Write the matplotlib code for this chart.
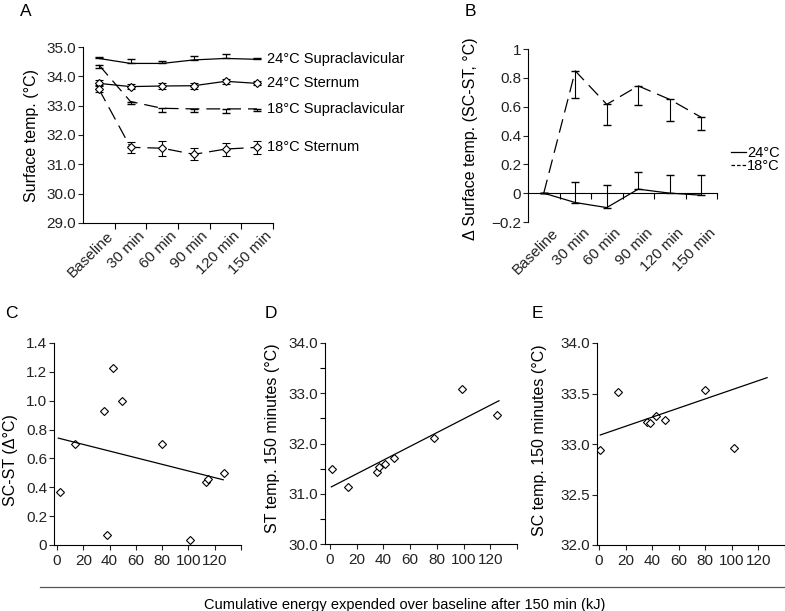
import numpy as np
import matplotlib.pyplot as plt
from matplotlib.lines import Line2D
from matplotlib.transforms import ScaledTranslation

plt.rcParams['font.family'] = ['Liberation Sans', 'DejaVu Sans']
plt.rcParams['font.size'] = 10.5
plt.rcParams['xtick.labelsize'] = 11
plt.rcParams['ytick.labelsize'] = 11
plt.rcParams['axes.labelsize'] = 11.5
plt.rcParams['lines.scale_dashes'] = False
plt.rcParams['axes.linewidth'] = 0.8

# ---- data ----
times = ['Baseline', '30 min', '60 min', '90 min', '120 min', '150 min']

# panel A: surface temperature (deg C)
sc24 = [34.61, 34.44, 34.44, 34.56, 34.61, 34.58]
sc24_err = [0.06, 0.14, 0.09, 0.14, 0.15, 0.05]
st24 = [33.76, 33.65, 33.67, 33.68, 33.83, 33.76]
st24_err = [0.1, 0.08, 0.1, 0.1, 0.08, 0.07]
sc18 = [34.39, 33.14, 32.91, 32.89, 32.89, 32.89]
sc18_err = [0.1, 0.1, 0.11, 0.1, 0.15, 0.06]
st18 = [33.57, 31.58, 31.55, 31.34, 31.52, 31.58]
st18_err = [0.12, 0.18, 0.25, 0.2, 0.22, 0.22]
a_labels = ['24°C Supraclavicular', '24°C Sternum', '18°C Supraclavicular', '18°C Sternum']

# panel B: SC-ST difference
diff24 = [0.0, -0.065, -0.1, 0.028, 0.0, -0.014]
diff24_err = [0.0, 0.145, 0.16, 0.12, 0.125, 0.14]
diff18 = [0.0, 0.848, 0.616, 0.744, 0.65, 0.526]
diff18_err = [0.0, 0.19, 0.145, 0.13, 0.15, 0.09]

# panel C: energy vs SC-ST
c_energy = [2, 14, 36, 42.5, 38, 49.6, 80, 101.5, 113.5, 115, 127]
c_diff = [0.37, 0.70, 0.93, 1.23, 0.07, 1.0, 0.70, 0.035, 0.44, 0.46, 0.50]
c_fit = (0.743, -0.0023)   # intercept, slope

# panel D: energy vs ST temp at 150 min
d_energy = [1.25, 13.25, 35, 37, 41, 48, 78, 99, 125]
d_temp = [31.5, 31.13, 31.44, 31.54, 31.6, 31.71, 32.1, 33.09, 32.56]
d_fit = (31.123, 0.01366)

# panel E: energy vs SC temp at 150 min
e_energy = [1, 14, 36, 38.5, 42.7, 50, 80, 101.5]
e_temp = [32.94, 33.51, 33.22, 33.21, 33.28, 33.24, 33.53, 32.96]
e_fit = (33.085, 0.00452)
fit_range = [1, 126.5]

W, H = 785, 611
fig = plt.figure(figsize=(W / 100, H / 100), dpi=100)


def px_axes(l, t, r, b):
    ax = fig.add_axes([l / W, 1 - b / H, (r - l) / W, (b - t) / H])
    ax.spines['top'].set_visible(False)
    ax.spines['right'].set_visible(False)
    ax.tick_params(direction='out', length=3.5, width=0.8, pad=1.5, colors='#222222')
    return ax


def category_axis(ax, pad):
    x = np.arange(len(times))
    ax.set_xlim(-0.5, len(times) - 0.5)
    ax.set_xticks(x)
    ax.set_xticklabels(times, rotation=45, ha='right', va='center', rotation_mode='anchor')
    ax.set_xticks(x + 0.5, minor=True)
    ax.tick_params(axis='x', which='major', length=0, pad=pad)
    ax.tick_params(axis='x', which='minor', length=4, width=0.8, direction='out')
    off = ScaledTranslation(0.12, 0, fig.dpi_scale_trans)
    for lab in ax.get_xticklabels():
        lab.set_transform(lab.get_transform() + off)


dash = (0, (10, 5))
x = np.arange(len(times))

# ---- A ----
axA = px_axes(83, 47, 273, 223)
zeros = [0] * len(times)
axA.errorbar(x, sc24, yerr=[zeros, sc24_err], color='k', lw=0.9, elinewidth=0.8, capsize=3)
axA.errorbar(x, st24, yerr=st24_err, color='k', lw=0.9, elinewidth=0.8, capsize=3,
             marker='D', ms=4, mfc='white', mec='k', mew=0.8)
axA.errorbar(x, sc18, yerr=[sc18_err, zeros], color='k', lw=0.9, elinewidth=0.8, capsize=3, ls=dash)
axA.errorbar(x, st18, yerr=st18_err, color='k', lw=0.9, elinewidth=0.8, capsize=3, ls=dash,
             marker='D', ms=4, mfc='white', mec='k', mew=0.8)
for series, lab in zip([sc24, st24, sc18, st18], a_labels):
    axA.text(5.3, series[-1], lab, ha='left', va='center', clip_on=False)
axA.set_ylim(29, 35)
axA.set_yticks(np.arange(29, 35.1, 1))
axA.set_yticklabels([f'{v:.1f}' for v in np.arange(29, 35.1, 1)])
category_axis(axA, 7.5)
axA.set_ylabel('Surface temp. (°C)')
axA.yaxis.set_label_coords(-0.23, 0.5)

# ---- B ----
axB = px_axes(528, 49, 717, 222)
axB.errorbar(x, diff24, yerr=[zeros, diff24_err], color='k', lw=0.9, elinewidth=0.8, capsize=3)
axB.errorbar(x, diff18, yerr=[diff18_err, zeros], color='k', lw=0.9, elinewidth=0.8, capsize=3, ls=dash)
axB.set_ylim(-0.2, 1)
b_ticks = [-0.2, 0, 0.2, 0.4, 0.6, 0.8, 1]
axB.set_yticks(b_ticks)
axB.set_yticklabels(['\u22120.2', '0', '0.2', '0.4', '0.6', '0.8', '1'])
axB.spines['bottom'].set_position(('data', 0))
category_axis(axB, 27)
axB.set_ylabel('\u0394 Surface temp. (SC-ST, °C)')
axB.yaxis.set_label_coords(-0.265, 0.48)
handles = [Line2D([], [], color='k', lw=0.9),
           Line2D([], [], color='k', lw=0.9, ls=(0, (2.5, 1.5)))]
axB.legend(handles, ['24°C', '18°C'], loc='center left', bbox_to_anchor=(1.075, 0.36),
           frameon=False, handlelength=1.0, handletextpad=0.1, labelspacing=-0.1,
           borderpad=0, borderaxespad=0)


def scatter_panel(ax, ex, ey, fit, xlim):
    ax.plot(ex, ey, ls='none', marker='D', ms=4, mfc='white', mec='k', mew=0.8)
    fx = np.array(fit_range)
    ax.plot(fx, fit[0] + fit[1] * fx, color='k', lw=0.9)
    ax.set_xlim(*xlim)
    ax.set_xticks(np.arange(0, 141, 20))
    ax.set_xticklabels([str(v) for v in range(0, 121, 20)] + [''])
    ax.tick_params(axis='x', pad=3)


# ---- C ----
axC = px_axes(54, 343, 241, 545)
scatter_panel(axC, c_energy, c_diff, c_fit, (-2.3, 140))
axC.set_ylim(0, 1.4)
c_ticks = np.arange(0, 1.41, 0.2)
axC.set_yticks(c_ticks)
axC.set_yticklabels(['0'] + [f'{v:.1f}' for v in c_ticks[1:]])
axC.set_ylabel('SC-ST (\u0394°C)')
axC.yaxis.set_label_coords(-0.193, 0.42)

# ---- D ----
axD = px_axes(325, 343, 517, 544)
scatter_panel(axD, d_energy, d_temp, d_fit, (-3.75, 140))
axD.set_ylim(30, 34)
axD.set_yticks(np.arange(30, 34.1, 1))
axD.set_yticklabels([f'{v:.1f}' for v in np.arange(30, 34.1, 1)])
axD.set_yticks(np.arange(30.5, 34, 1), minor=True)
axD.tick_params(axis='y', which='minor', length=3.5, width=0.8, direction='out')
axD.set_ylabel('ST temp. 150 minutes (°C)')
axD.yaxis.set_label_coords(-0.234, 0.525)

# ---- E ----
axE = px_axes(597, 343, 785, 545)
scatter_panel(axE, e_energy, e_temp, e_fit, (-1.5, 140))
axE.set_ylim(32, 34)
axE.set_yticks(np.arange(32, 34.01, 0.5))
axE.set_yticklabels([f'{v:.1f}' for v in np.arange(32, 34.01, 0.5)])
axE.set_ylabel('SC temp. 150 minutes (°C)')
axE.yaxis.set_label_coords(-0.266, 0.52)

# shared x caption
fig.add_artist(Line2D([40 / W, 1], [1 - 587 / H] * 2, transform=fig.transFigure,
                      color='#555555', lw=0.9))
fig.text(405 / W, 1 - 605 / H, 'Cumulative energy expended over baseline after 150 min (kJ)',
         ha='center', va='center')

for letter, px, py in [('A', 20, 11), ('B', 465, 11), ('C', 5, 313), ('D', 265, 313), ('E', 532, 313)]:
    fig.text(px / W, 1 - py / H, letter, ha='left', va='center', fontsize=12.5)

fig.savefig('out.png', dpi=100)
